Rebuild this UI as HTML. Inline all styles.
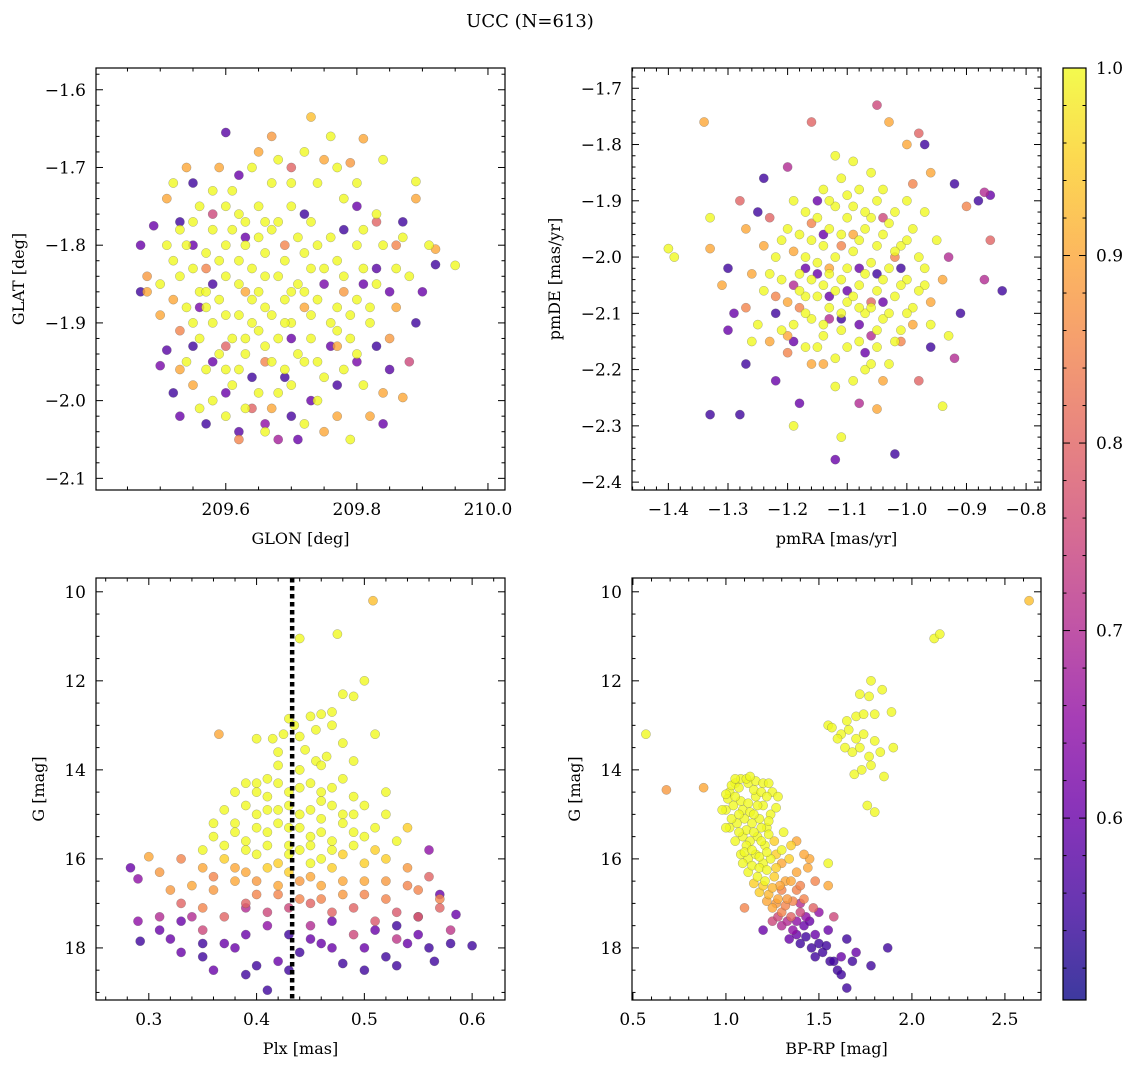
<!DOCTYPE html>
<html><head><meta charset="utf-8"><style>
html,body{margin:0;padding:0;background:#fff;}
svg{display:block;font-family:"DejaVu Serif","Liberation Serif",serif;}
</style></head><body>
<svg id="fig" width="1136" height="1067" viewBox="0 0 1136 1067">
<text x="530" y="27" font-size="18" text-anchor="middle">UCC (N=613)</text>
<defs><linearGradient id="cbg" x1="0" y1="1" x2="0" y2="0">
<stop offset="0" stop-color="#0d0887"/><stop offset="0.1" stop-color="#41049d"/><stop offset="0.2" stop-color="#6a00a8"/><stop offset="0.3" stop-color="#8f0da4"/><stop offset="0.4" stop-color="#b12a90"/><stop offset="0.5" stop-color="#cc4778"/><stop offset="0.6" stop-color="#e16462"/><stop offset="0.7" stop-color="#f2844b"/><stop offset="0.8" stop-color="#fca636"/><stop offset="0.9" stop-color="#fcce25"/><stop offset="1" stop-color="#f0f921"/></linearGradient></defs>
<g id="cb">
<rect x="1063" y="68" width="23" height="932" fill="url(#cbg)" opacity="0.8"/>
</g>
</svg>
<script>
// ---- data: [x, y, membership probability] ----
const glonGlat = [[209.60,-1.655,.58],[209.47,-1.86,.55],[209.49,-1.775,.6],[209.53,-1.77,.55],[209.55,-1.80,.6],[209.51,-1.935,.58],[209.50,-1.955,.62],[209.55,-1.93,.55],[209.53,-2.02,.6],[209.57,-2.03,.55],[209.62,-2.04,.58],[209.66,-2.03,.65],[209.70,-2.02,.56],[209.73,-2.00,.6],[209.77,-1.98,.56],[209.80,-1.95,.62],[209.83,-1.93,.55],[209.85,-1.96,.58],[209.89,-1.90,.55],[209.92,-1.825,.55],[209.85,-1.86,.6],[209.80,-1.75,.6],[209.78,-1.78,.55],[209.72,-1.76,.55],[209.62,-1.71,.6],[209.55,-1.72,.55],[209.58,-1.85,.56],[209.64,-1.97,.55],[209.60,-1.99,.6],[209.70,-1.92,.6],[209.75,-1.85,.62],[209.68,-2.05,.68],[209.56,-1.88,.62],[209.83,-1.83,.58],
[209.73,-1.635,.93],[209.65,-1.68,.9],[209.81,-1.663,.9],[209.79,-1.694,.88],[209.92,-1.805,.9],[209.87,-1.996,.9],[209.48,-1.84,.88],[209.48,-1.86,.9],[209.51,-1.74,.9],[209.54,-1.70,.9],[209.67,-1.66,.88],[209.70,-1.70,.8],[209.55,-1.98,.9],[209.53,-1.91,.85],[209.82,-2.02,.9],[209.75,-2.04,.9],[209.62,-2.05,.85],[209.85,-1.92,.88],[209.86,-1.80,.85],[209.83,-1.77,.8],[209.89,-1.74,.9],[209.58,-1.76,.75],[209.60,-1.93,.8],[209.66,-1.95,.85],[209.72,-1.88,.9],[209.69,-1.80,.85],[209.78,-1.86,.88],[209.77,-1.93,.9],[209.63,-1.86,.9],[209.57,-1.83,.85],[209.52,-1.87,.9],[209.88,-1.95,.75],[209.64,-2.01,.8],
[209.52,-1.72,1],[209.56,-1.75,1],[209.60,-1.75,1],[209.63,-1.77,1],[209.67,-1.72,1],[209.70,-1.75,1],[209.74,-1.72,1],[209.77,-1.70,1],[209.80,-1.72,1],[209.83,-1.76,1],[209.87,-1.79,1],[209.91,-1.80,1],[209.95,-1.826,1],[209.89,-1.718,1],[209.84,-1.69,1],[209.76,-1.66,1],[209.72,-1.68,1],
[209.54,-1.80,1],[209.57,-1.81,1],[209.60,-1.80,1],[209.62,-1.82,1],[209.65,-1.79,1],[209.68,-1.77,1],[209.71,-1.79,1],[209.74,-1.80,1],[209.77,-1.82,1],[209.80,-1.80,1],[209.83,-1.85,1],[209.86,-1.83,1],
[209.50,-1.85,1],[209.53,-1.84,1],[209.56,-1.86,1],[209.59,-1.87,1],[209.62,-1.85,1],[209.65,-1.86,1],[209.68,-1.84,1],[209.71,-1.85,1],[209.74,-1.87,1],[209.77,-1.88,1],[209.80,-1.87,1],[209.55,-1.90,1],[209.58,-1.90,1],[209.61,-1.92,1],[209.64,-1.90,1],[209.67,-1.89,1],[209.70,-1.90,1],[209.73,-1.92,1],[209.76,-1.90,1],[209.79,-1.92,1],[209.82,-1.90,1],
[209.54,-1.95,1],[209.57,-1.96,1],[209.60,-1.96,1],[209.63,-1.94,1],[209.66,-1.93,1],[209.69,-1.96,1],[209.72,-1.95,1],[209.75,-1.97,1],[209.78,-1.96,1],[209.81,-1.98,1],[209.58,-2.00,1],[209.63,-2.01,1],[209.68,-1.99,1],[209.72,-2.03,1],[209.79,-2.05,1],[209.66,-2.04,1],
[209.64,-1.83,1],[209.60,-1.84,1],[209.66,-1.81,1],[209.69,-1.87,1],[209.62,-1.89,1],[209.67,-1.95,1],[209.58,-1.78,1],[209.73,-1.83,1],[209.61,-1.73,1],[209.65,-1.75,1],
[209.51,-1.80,1],[209.53,-1.78,1],[209.55,-1.83,1],[209.57,-1.88,1],[209.59,-1.82,1],[209.61,-1.78,1],[209.63,-1.80,1],[209.64,-1.87,1],[209.66,-1.84,1],[209.67,-1.78,1],[209.69,-1.82,1],[209.70,-1.86,1],[209.72,-1.81,1],[209.73,-1.89,1],[209.75,-1.83,1],[209.76,-1.79,1],[209.78,-1.84,1],[209.79,-1.89,1],[209.81,-1.83,1],[209.82,-1.88,1],[209.84,-1.80,1],[209.56,-1.92,1],[209.59,-1.94,1],[209.62,-1.96,1],[209.65,-1.91,1],[209.68,-1.92,1],[209.71,-1.94,1],[209.74,-1.95,1],[209.77,-1.91,1],[209.80,-1.94,1],[209.60,-1.89,1],[209.63,-1.92,1],[209.66,-1.88,1],[209.69,-1.90,1],[209.72,-1.86,1],[209.57,-1.86,1],[209.54,-1.88,1],[209.52,-1.82,1],[209.62,-1.76,1],[209.66,-1.77,1],[209.70,-1.72,1],[209.73,-1.77,1],[209.58,-1.73,1],[209.55,-1.77,1],[209.78,-1.74,1],[209.81,-1.78,1],[209.64,-1.70,1],[209.68,-1.69,1],[209.61,-1.98,1],[209.65,-1.99,1],[209.70,-1.98,1],[209.74,-2.00,1],[209.56,-2.01,1],[209.60,-2.02,1],[209.77,-2.02,.9],[209.84,-1.99,.9],[209.86,-1.88,.9],[209.88,-1.84,1],[209.50,-1.89,.9],[209.53,-1.96,.9],[209.59,-1.70,.9],[209.75,-1.69,.9],[209.67,-2.01,.9],[209.71,-2.05,.6],[209.58,-1.95,.6],[209.76,-1.93,.6],[209.81,-1.85,.6],[209.63,-1.79,.6],[209.69,-1.97,.55],[209.87,-1.77,.55],[209.90,-1.86,.6],[209.47,-1.80,.6],[209.52,-1.99,.55],[209.84,-2.03,.6]];
const pmraPmde = [[-1.34,-1.76,.9],[-1.16,-1.76,.8],[-1.05,-1.73,.75],[-0.98,-1.78,.8],[-0.97,-1.80,.55],[-1.03,-1.76,.9],[-1.00,-1.80,.9],[-0.96,-1.85,.9],[-1.40,-1.985,1],[-1.39,-2.00,1],[-1.33,-1.93,1],[-1.33,-1.985,.9],[-1.33,-2.28,.55],[-1.28,-2.28,.55],[-1.19,-2.30,1],[-1.11,-2.32,1],[-1.12,-2.36,.6],[-1.02,-2.35,.55],[-0.84,-2.06,.55],[-0.86,-1.89,.6],[-0.87,-1.885,.7],[-0.88,-1.90,.55],[-0.92,-1.87,.55],[-0.86,-1.97,.8],[-0.87,-2.04,.7],[-0.94,-2.265,1],[-1.22,-2.22,.6],[-1.18,-2.26,.6],[-1.08,-2.26,.7],[-1.05,-2.27,.9],[-1.24,-1.86,.55],[-1.25,-1.92,.55],[-1.28,-1.90,.8],[-1.30,-2.02,.55],[-1.29,-2.10,.6],[-1.30,-2.13,.6],[-1.27,-2.19,.55],[-1.26,-2.15,1],[-1.31,-2.05,.9],[-1.20,-1.84,.7],[-1.27,-1.95,.9],[-0.93,-2.00,.7],[-0.91,-2.10,.55],[-0.92,-2.18,.7],[-0.93,-2.14,1],[-0.96,-2.16,.55],[-0.98,-2.22,.8],[-1.14,-2.19,.9],[-1.09,-2.22,1],[-0.90,-1.91,.85],[-1.15,-1.90,.6],
[-1.20,-1.95,1],[-1.17,-1.92,1],[-1.14,-1.88,1],[-1.11,-1.86,1],[-1.08,-1.88,1],[-1.05,-1.90,1],[-1.02,-1.92,1],[-0.99,-1.95,1],[-1.22,-2.00,1],[-1.19,-1.99,.9],[-1.16,-1.97,1],[-1.13,-1.95,1],[-1.10,-1.93,1],[-1.07,-1.95,1],[-1.04,-1.96,1],[-1.01,-1.98,1],[-0.98,-2.00,1],[-1.21,-2.04,1],[-1.18,-2.03,1],[-1.15,-2.01,1],[-1.12,-2.00,1],[-1.09,-1.99,1],[-1.06,-2.01,1],[-1.03,-2.02,1],[-1.00,-2.04,1],[-0.97,-2.05,1],[-1.20,-2.08,.9],[-1.17,-2.07,1],[-1.14,-2.05,1],[-1.11,-2.04,1],[-1.08,-2.05,1],[-1.05,-2.06,1],[-1.02,-2.07,1],[-0.99,-2.09,1],[-1.19,-2.12,1],[-1.16,-2.11,1],[-1.13,-2.09,1],[-1.10,-2.08,1],[-1.07,-2.10,1],[-1.04,-2.11,1],[-1.01,-2.13,1],[-1.17,-2.16,1],[-1.14,-2.14,1],[-1.11,-2.13,1],[-1.08,-2.15,1],[-1.05,-2.16,1],[-1.12,-2.18,1],[-1.07,-2.20,1],[-1.03,-2.19,1],[-0.96,-2.12,1],[-0.95,-1.97,1],[-1.24,-2.06,1],[-1.25,-2.12,1],[-1.23,-2.15,.9],[-0.97,-1.92,1],[-1.06,-1.85,1],[-1.12,-1.82,1],
[-1.15,-2.03,.6],[-1.10,-2.06,.6],[-1.05,-2.03,.55],[-1.13,-2.11,.7],[-1.08,-2.12,.6],[-1.18,-2.09,.85],[-1.02,-2.00,.85],[-1.16,-1.94,.85],[-1.09,-1.96,.9],[-1.20,-2.17,.85],[-1.07,-2.17,.6],[-1.04,-1.93,.75],[-1.22,-2.10,.55],[-1.01,-2.15,.85],[-1.13,-2.02,.9],[-0.99,-2.12,.9],[-1.11,-1.98,.85],[-1.19,-2.05,.7],[-1.06,-2.08,.8],
[-1.21,-1.97,1],[-1.18,-1.96,1],[-1.15,-1.93,1],[-1.12,-1.91,1],[-1.09,-1.91,1],[-1.06,-1.93,1],[-1.03,-1.94,1],[-1.00,-1.97,1],[-1.17,-2.00,1],[-1.14,-1.98,1],[-1.11,-1.96,1],[-1.08,-1.97,1],[-1.05,-1.98,1],[-1.02,-1.99,1],[-1.16,-2.04,1],[-1.13,-2.03,1],[-1.10,-2.02,1],[-1.07,-2.03,1],[-1.04,-2.04,1],[-1.01,-2.05,1],[-1.18,-2.06,1],[-1.15,-2.07,1],[-1.12,-2.06,1],[-1.09,-2.07,1],[-1.06,-2.09,1],[-1.03,-2.10,1],[-1.00,-2.10,1],[-1.17,-2.10,1],[-1.14,-2.12,1],[-1.11,-2.10,1],[-1.08,-2.09,1],[-1.05,-2.13,1],[-1.02,-2.15,1],[-1.15,-2.16,1],[-1.10,-2.16,1],[-1.06,-2.19,1],[-1.13,-1.90,1],[-1.10,-1.89,1],[-1.07,-1.92,1],[-1.21,-2.13,1],[-1.23,-2.03,1],[-0.98,-2.06,1],[-0.97,-2.02,1],[-1.19,-1.90,1],[-1.09,-1.83,1],[-1.04,-1.88,1],[-1.00,-1.90,1],[-1.16,-2.19,.9],[-1.12,-2.23,1],[-1.04,-2.22,.9],[-1.24,-1.98,.9],[-1.26,-2.03,.9],[-1.22,-2.07,.85],[-1.20,-2.14,.9],[-0.96,-2.08,.9],[-0.94,-2.04,.9],[-1.13,-2.07,.6],[-1.08,-2.02,.6],[-1.11,-2.11,.55],[-1.17,-2.02,.6],[-1.04,-2.08,.6],[-1.14,-1.96,.6],[-1.01,-2.02,.55],[-1.19,-2.15,.6],[-1.06,-2.14,.7],[-1.23,-1.93,.8],[-0.99,-1.87,.85],[-1.27,-2.09,.85]];
const plxG = [[0.508,10.2,.93],[0.44,11.05,1],[0.475,10.95,1],[0.48,12.3,1],[0.49,12.35,1],[0.50,12.0,1],[0.46,12.75,1],[0.47,12.7,1],[0.45,12.8,1],[0.43,12.85,1],[0.365,13.2,.9],[0.51,13.2,1],[0.415,13.3,1],[0.425,13.2,1],[0.44,13.25,1],[0.445,13.55,1],[0.455,13.8,1],[0.465,13.7,1],[0.48,13.4,1],[0.42,13.9,1],[0.40,14.3,1],[0.39,14.3,1],[0.41,14.6,1],[0.43,14.5,1],[0.45,14.3,1],[0.47,14.4,1],[0.49,14.6,1],[0.50,14.8,1],[0.37,14.9,1],[0.38,15.2,1],[0.40,15.0,1],[0.42,14.9,1],[0.44,15.0,1],[0.46,15.1,1],[0.48,15.0,1],[0.51,15.3,1],[0.36,15.5,1],[0.39,15.6,1],[0.41,15.4,1],[0.43,15.3,1],[0.45,15.5,1],[0.47,15.6,1],[0.49,15.4,1],[0.53,15.6,1],[0.35,15.8,1],[0.37,16.0,.95],[0.40,15.9,1],[0.42,16.1,.95],[0.44,15.8,1],[0.46,16.0,1],[0.48,15.9,.95],[0.50,16.1,.95],[0.52,16.0,.95],[0.41,14.2,1],[0.46,14.7,1],[0.43,15.7,1],[0.39,16.3,.9],[0.45,16.4,.9],[0.33,16.0,.85],[0.30,15.95,.9],
[0.34,16.6,.9],[0.36,16.7,.88],[0.38,16.5,.9],[0.40,16.8,.85],[0.42,16.6,.9],[0.44,16.9,.85],[0.46,16.6,.9],[0.48,16.8,.88],[0.50,16.5,.9],[0.52,16.9,.85],[0.54,16.6,.85],[0.56,16.4,.8],[0.57,16.9,.85],[0.33,17.0,.8],[0.37,17.3,.8],[0.41,17.2,.75],[0.47,17.2,.8],[0.51,17.4,.78],[0.55,17.3,.8],[0.35,17.6,.75],[0.53,17.8,.72],[0.49,17.7,.75],[0.31,17.3,.7],[0.39,17.1,.7],[0.45,17.5,.7],[0.58,17.6,.72],
[0.283,16.2,.6],[0.29,16.45,.65],[0.292,17.85,.55],[0.31,17.6,.6],[0.33,18.1,.6],[0.35,17.9,.55],[0.36,18.5,.6],[0.38,18.0,.6],[0.39,18.6,.55],[0.40,18.4,.55],[0.41,18.95,.55],[0.42,18.3,.6],[0.44,18.1,.55],[0.46,17.9,.6],[0.48,18.35,.55],[0.50,18.0,.6],[0.52,18.2,.55],[0.54,17.9,.6],[0.56,18.0,.55],[0.565,18.3,.55],[0.585,17.25,.6],[0.60,17.95,.55],[0.57,16.8,.6],[0.55,17.3,.6],[0.53,17.5,.55],[0.43,17.7,.55],[0.37,17.9,.6],[0.47,17.4,.6],[0.33,17.4,.6],[0.56,15.8,.65],
[0.40,14.5,1],[0.42,14.3,1],[0.44,14.4,1],[0.46,14.5,1],[0.48,14.2,1],[0.39,14.8,1],[0.41,14.9,1],[0.43,14.8,1],[0.45,14.9,1],[0.47,14.8,1],[0.49,15.0,1],[0.38,15.4,1],[0.40,15.3,1],[0.42,15.2,1],[0.44,15.3,1],[0.46,15.4,1],[0.48,15.2,1],[0.50,15.5,1],[0.39,15.8,1],[0.41,15.7,1],[0.43,15.9,1],[0.45,15.7,1],[0.47,15.8,1],[0.49,15.7,1],[0.41,16.2,.95],[0.43,16.3,.95],[0.45,16.1,1],[0.47,16.2,.95],[0.36,15.2,1],[0.52,15.0,1],[0.54,15.3,.95],[0.35,16.2,.9],[0.37,15.7,1],[0.51,15.8,.95],[0.44,14.0,1],[0.46,13.9,1],[0.42,13.6,1],[0.435,13.0,1],[0.455,13.1,1],[0.47,13.0,1],[0.40,13.3,1],[0.49,13.8,1],[0.52,14.5,1],[0.38,14.5,1],[0.36,16.4,.85],[0.38,16.2,.9],[0.40,16.5,.88],[0.42,16.8,.85],[0.44,16.5,.88],[0.46,16.9,.85],[0.48,16.5,.9],[0.50,16.8,.85],[0.52,16.5,.88],[0.54,16.2,.88],[0.39,17.0,.8],[0.43,17.1,.75],[0.45,17.0,.8],[0.49,17.1,.8],[0.53,17.2,.78],[0.57,17.1,.8],[0.34,17.3,.7],[0.32,16.7,.88],[0.35,17.1,.85],[0.31,16.3,.88],[0.55,16.7,.85],[0.41,17.5,.65],[0.45,17.8,.6],[0.39,17.7,.6],[0.51,17.6,.6],[0.55,17.7,.6],[0.35,18.2,.55],[0.43,18.5,.55],[0.47,18.0,.6],[0.50,18.5,.55],[0.58,17.9,.55],[0.32,17.8,.6],[0.29,17.4,.65],[0.53,18.4,.55]];
const colorG = [[2.63,10.2,.93],[2.12,11.05,1],[2.15,10.95,1],[1.78,12.0,1],[1.72,12.3,1],[1.77,12.35,1],[1.84,12.2,1],[1.89,12.7,1],[1.70,12.8,1],[1.74,12.75,1],[1.55,13.0,1],[1.57,13.05,1],[1.62,13.2,1],[1.66,13.1,1],[1.70,13.3,1],[1.74,13.2,1],[1.80,13.35,1],[1.83,13.6,1],[1.90,13.5,1],[1.77,13.7,1],[1.64,13.5,1],[1.69,14.1,1],[1.73,14.0,1],[1.85,14.15,1],[1.76,14.8,1],[1.80,14.95,1],[0.57,13.2,1],[0.68,14.45,.88],[0.88,14.4,.9],
[1.02,14.5,1],[1.05,14.3,1],[1.08,14.2,1],[1.12,14.3,1],[1.16,14.25,1],[1.20,14.3,1],[1.25,14.5,1],[1.00,14.9,1],[1.04,14.8,1],[1.08,14.7,1],[1.12,14.75,1],[1.16,14.6,1],[1.20,14.8,1],[1.24,15.0,1],[1.28,14.6,1],[1.02,15.3,1],[1.06,15.2,1],[1.10,15.1,1],[1.14,15.2,1],[1.18,15.1,1],[1.22,15.3,1],[1.05,15.6,1],[1.09,15.5,1],[1.13,15.6,1],[1.17,15.5,1],[1.21,15.7,1],[1.26,15.6,.95],[1.08,15.9,1],[1.12,16.0,1],[1.16,15.9,1],[1.20,16.1,1],[1.24,16.0,1],[1.30,16.1,.9],[1.12,16.3,1],[1.17,16.4,1],[1.21,16.5,1],[1.26,16.4,.95],[1.32,16.5,.9],[1.38,16.3,.9],[1.44,16.2,.9],[1.18,16.75,.95],[1.23,16.8,.92],[1.28,16.9,.9],[1.33,16.9,.88],[1.42,16.9,.85],[1.55,16.6,.9],[1.25,17.1,.9],[1.30,17.2,.85],[1.35,17.3,.8],[1.40,17.2,.75],[1.47,17.1,.8],[1.58,17.3,.75],[1.30,17.5,.7],[1.36,17.6,.65],[1.42,17.5,.6],[1.48,17.7,.6],[1.34,17.8,.6],[1.40,17.9,.55],[1.46,18.0,.55],[1.52,18.1,.55],[1.56,18.3,.55],[1.60,18.5,.55],[1.65,18.9,.55],[1.62,18.2,.6],[1.70,18.1,.6],[1.78,18.4,.55],[1.87,18.0,.55],[1.65,17.8,.55],[1.55,17.6,.6],[1.45,17.4,.6],[1.20,17.6,.6],[1.55,16.1,1],[1.38,15.6,.9],[1.45,16.0,.9],[1.10,17.1,.85],[1.00,15.3,1],[0.98,14.9,1],[1.30,15.8,1],[1.34,16.0,.95],[1.40,17.0,.7],[1.50,17.2,.65],[1.38,16.7,.85],[1.25,17.4,.75],
[1.03,14.35,1],[1.07,14.4,1],[1.11,14.2,1],[1.15,14.45,1],[1.19,14.5,1],[1.23,14.3,1],[1.01,14.65,1],[1.05,14.6,1],[1.09,14.9,1],[1.13,14.95,1],[1.17,14.8,1],[1.22,14.6,1],[1.27,14.85,1],[1.03,15.1,1],[1.07,15.0,1],[1.11,15.35,1],[1.15,15.0,1],[1.19,15.3,1],[1.23,15.15,1],[1.07,15.4,1],[1.11,15.7,1],[1.15,15.4,1],[1.19,15.6,1],[1.23,15.45,1],[1.10,15.85,1],[1.14,15.8,1],[1.18,15.95,1],[1.22,15.85,1],[1.27,15.9,.95],[1.14,16.15,1],[1.18,16.2,1],[1.22,16.25,1],[1.27,16.2,.95],[1.15,16.55,.95],[1.20,16.6,.95],[1.25,16.65,.92],[1.29,16.6,.9],[1.22,16.95,.9],[1.27,17.0,.88],[1.32,17.05,.85],[1.36,16.95,.85],[1.28,17.3,.75],[1.33,17.4,.7],[1.38,17.4,.65],[1.43,17.3,.65],[1.38,17.7,.6],[1.43,17.75,.55],[1.50,17.9,.55],[1.48,18.2,.55],[1.54,17.95,.55],[1.58,18.3,.55],[1.62,18.6,.55],[1.68,18.3,.55],[1.30,16.7,.85],[1.35,16.5,.9],[1.40,16.6,.85],[1.48,16.5,.85],[1.05,14.2,1],[1.13,14.15,1],[1.00,14.55,1],[1.09,16.1,1],[1.31,15.4,1],[1.35,15.7,.95],[1.42,15.9,.9],[1.60,13.3,1],[1.68,13.6,1],[1.72,13.5,1],[1.78,13.9,1],[1.65,12.9,1],[1.80,12.75,1]];
const plxMedian = 0.433;
const cbTicks = [0.6, 0.7, 0.8, 0.9, 1.0];
const cbMin = 0.503, cbMax = 1.0;

const NS = "http://www.w3.org/2000/svg";
const svg = document.getElementById('fig');
const stops = ["#0d0887","#41049d","#6a00a8","#8f0da4","#b12a90","#cc4778","#e16462","#f2844b","#fca636","#fcce25","#f0f921"];
function hex(h){return [1,3,5].map(i=>parseInt(h.substr(i,2),16));}
function cmap(p){let t=Math.max(0,Math.min(1,(p-cbMin)/(cbMax-cbMin)))*10;let i=Math.min(9,Math.floor(t)),f=t-i;const a=hex(stops[i]),b=hex(stops[i+1]);return 'rgb('+a.map((v,k)=>Math.round(v+(b[k]-v)*f)).join(',')+')';}
function mk(tag,attrs,parent){const e=document.createElementNS(NS,tag);for(const k in attrs)e.setAttribute(k,attrs[k]);(parent||svg).appendChild(e);return e;}
function fmt(v,d){return (v<0?'\u2212':'')+Math.abs(v).toFixed(d);}

function panel(c){
  const g=mk('g',{});
  
  
  const X=v=>c.x0+(v-c.xmin)/(c.xmax-c.xmin)*(c.x1-c.x0);
  const Y=v=>c.inv? c.y0+(v-c.ymin)/(c.ymax-c.ymin)*(c.y1-c.y0) : c.y1-(v-c.ymin)/(c.ymax-c.ymin)*(c.y1-c.y0);
  const pts=c.data.slice().sort((a,b)=>a[2]-b[2]);
  pts.forEach(d=>{
    const ci=mk('circle',{cx:X(d[0]).toFixed(1),cy:Y(d[1]).toFixed(1),r:4.6,fill:cmap(d[2]),'fill-opacity':0.8,stroke:'#555','stroke-width':0.4,'stroke-opacity':0.6},g);
    
    
  });
  if(c.vline!==undefined){
    const l=mk('line',{x1:X(c.vline),x2:X(c.vline),y1:c.y0,y2:c.y1,stroke:'#000','stroke-width':4.5,'stroke-dasharray':'4.5,3.5'},g);
    
    
  }
  for(let v=Math.ceil(c.xmin/c.xmn-1e-9)*c.xmn; v<=c.xmax+1e-9; v+=c.xmn){
    const major=Math.abs(v/c.xmj-Math.round(v/c.xmj))<1e-6; const L=major?7:3.5; const x=X(v);
    mk('line',{x1:x,x2:x,y1:c.y1,y2:c.y1-L,stroke:'#000','stroke-width':1},g);
    mk('line',{x1:x,x2:x,y1:c.y0,y2:c.y0+L,stroke:'#000','stroke-width':1},g);
    if(major){const t=mk('text',{x:x,y:c.y1+25,'font-size':17,'text-anchor':'middle'},g);t.textContent=fmt(v,c.xd);
      
      }
  }
  for(let v=Math.ceil(c.ymin/c.ymn-1e-9)*c.ymn; v<=c.ymax+1e-9; v+=c.ymn){
    const major=Math.abs(v/c.ymj-Math.round(v/c.ymj))<1e-6; const L=major?7:3.5; const y=Y(v);
    mk('line',{x1:c.x0,x2:c.x0+L,y1:y,y2:y,stroke:'#000','stroke-width':1},g);
    mk('line',{x1:c.x1,x2:c.x1-L,y1:y,y2:y,stroke:'#000','stroke-width':1},g);
    if(major){const t=mk('text',{x:c.x0-10,y:y+6,'font-size':17,'text-anchor':'end'},g);t.textContent=fmt(v,c.yd);
      
      }
  }
  mk('rect',{x:c.x0,y:c.y0,width:c.x1-c.x0,height:c.y1-c.y0,fill:'none',stroke:'#000','stroke-width':1.2},g);
  const xl=mk('text',{x:(c.x0+c.x1)/2,y:c.y1+54,'font-size':16,'text-anchor':'middle'},g);xl.textContent=c.xl;
  
  
  const yx=c.ylx, yy=(c.y0+c.y1)/2;
  const yl=mk('text',{x:yx,y:yy,'font-size':16,'text-anchor':'middle',transform:'rotate(-90 '+yx+' '+yy+')'},g);yl.textContent=c.yl;
  
  
}
panel({name:'glon-glat-panel',data:glonGlat,x0:96,x1:505,y0:68,y1:490,xmin:209.402,xmax:210.026,ymin:-2.115,ymax:-1.572,xmj:0.2,xmn:0.05,ymj:0.1,ymn:0.02,xd:1,yd:1,xl:'GLON [deg]',yl:'GLAT [deg]',ylx:24});
panel({name:'pm-panel',data:pmraPmde,x0:632,x1:1041,y0:68,y1:490,xmin:-1.461,xmax:-0.775,ymin:-2.414,ymax:-1.664,xmj:0.1,xmn:0.02,ymj:0.1,ymn:0.02,xd:1,yd:1,xl:'pmRA [mas/yr]',yl:'pmDE [mas/yr]',ylx:560});
panel({name:'plx-g-panel',data:plxG,x0:96,x1:505,y0:578,y1:1000,xmin:0.251,xmax:0.6305,ymin:9.69,ymax:19.17,inv:true,xmj:0.1,xmn:0.02,ymj:2,ymn:0.5,xd:1,yd:0,xl:'Plx [mas]',yl:'G [mag]',ylx:44,vline:plxMedian});
panel({name:'cmd-panel',data:colorG,x0:632,x1:1041,y0:578,y1:1000,xmin:0.495,xmax:2.694,ymin:9.69,ymax:19.17,inv:true,xmj:0.5,xmn:0.1,ymj:2,ymn:0.5,xd:1,yd:0,xl:'BP-RP [mag]',yl:'G [mag]',ylx:580});

const cb=document.getElementById('cb');
const CY=v=>1000-(v-cbMin)/(cbMax-cbMin)*932;
for(let v=0.52; v<=1.0001; v+=0.02){
  const y=CY(v); const major=Math.abs(v*10-Math.round(v*10))<1e-6; const L=major?7:3.5;
  mk('line',{x1:1063,x2:1063+L,y1:y,y2:y,stroke:'#000'},cb);
  mk('line',{x1:1086,x2:1086-L,y1:y,y2:y,stroke:'#000'},cb);
}
cbTicks.forEach(v=>{
  const t=mk('text',{x:1096,y:CY(v)+6,'font-size':17},cb);t.textContent=v.toFixed(1);
  
  
});
mk('rect',{x:1063,y:68,width:23,height:932,fill:'none',stroke:'#000','stroke-width':1.2},cb);
</script>
</body></html>
